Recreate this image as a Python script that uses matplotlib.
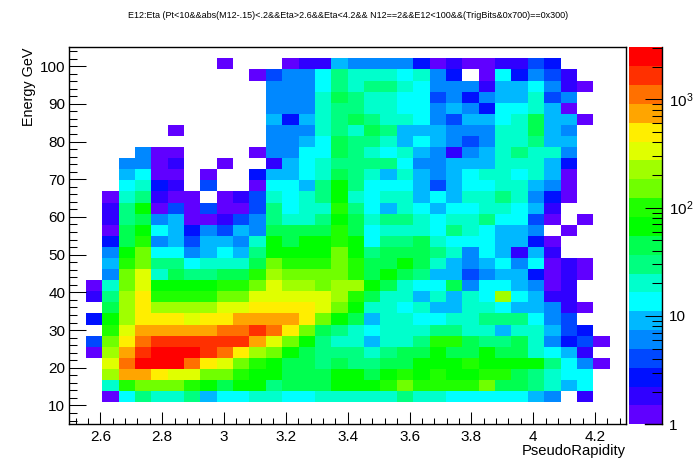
import numpy as np
import matplotlib
matplotlib.use("Agg")
import matplotlib.pyplot as plt
from matplotlib.colors import ListedColormap, LogNorm
from matplotlib.ticker import MultipleLocator, FixedLocator, FixedFormatter

plt.rcParams['font.family'] = ['Liberation Sans', 'DejaVu Sans']
plt.rcParams['mathtext.default'] = 'regular'

title = "E12:Eta (Pt<10&&abs(M12-.15)<.2&&Eta>2.6&&Eta<4.2&& N12==2&&E12<100&&(TrigBits&0x700)==0x300)"
x_label = "PseudoRapidity"
y_label = "Energy GeV"
eta_range = (2.5, 4.3)
energy_range = (5.0, 105.0)
z_range = (1.0, 3020.0)

# Representative count for each colour band (index 0 = empty bin)
band_counts = [0, 1, 2, 3, 4, 6, 9, 13, 20, 30, 45, 67, 100, 150, 225, 330, 500, 730, 1100, 1600, 2400]
palette = ['#6000ff', '#3000ff', '#0010ff', '#0048ff', '#0088ff', '#00b8ff', '#00ffff',
           '#00ffcc', '#00ff80', '#00ff50', '#00ff00', '#20ff00', '#70ff00', '#a0ff00',
           '#e0ff00', '#ffee00', '#ffa500', '#ff7000', '#ff3000', '#ff0000']

# Colour band of each bin, top energy row first, 34 eta bins per row
bands_top_down = [
 [0]*34,
 [0,0,0,0,0,0,0,0,0,1,0,0,0,1,2,2,6,5,5,5,5,3,1,2,1,1,2,2,4,3,0,0,0,0],
 [0,0,0,0,0,0,0,0,0,0,0,1,4,5,5,7,9,8,8,8,7,8,5,3,0,1,7,3,5,4,2,0,0,0],
 [0,0,0,0,0,0,0,0,0,0,0,0,5,5,5,7,9,8,9,9,8,7,5,5,5,2,6,6,7,5,2,1,0,0],
 [0,0,0,0,0,0,0,0,0,0,0,0,5,5,5,8,10,9,8,8,7,7,4,5,3,5,6,6,8,4,5,0,0,0],
 [0,0,0,0,0,0,0,0,0,0,0,0,5,5,5,8,9,9,8,8,7,7,5,6,5,3,7,7,8,6,1,0,0,0],
 [0,0,0,0,0,0,0,0,0,0,0,0,6,3,6,8,9,10,9,8,8,7,5,4,6,6,7,8,10,6,6,1,0,0],
 [0,0,0,0,0,0,1,0,0,0,0,0,5,5,5,8,9,8,10,9,6,6,6,5,5,5,8,8,10,6,5,0,0,0],
 [0,0,0,0,0,0,0,0,0,0,0,0,5,5,6,7,10,9,9,8,6,7,6,5,4,5,8,8,9,6,6,0,0,0],
 [0,0,0,0,5,1,1,0,0,0,0,1,5,5,7,7,10,9,8,7,8,6,5,2,5,6,8,9,8,8,5,0,0,0],
 [0,0,0,5,5,1,2,0,0,1,0,0,2,6,7,8,9,9,9,9,7,5,5,6,6,6,8,8,8,6,3,0,0,0],
 [0,0,0,6,7,1,1,0,1,0,0,3,6,6,7,8,10,9,8,6,8,6,5,6,7,8,8,7,8,6,1,0,0,0],
 [0,0,0,7,8,3,2,0,4,0,0,1,7,7,6,9,11,9,7,7,7,6,4,6,7,7,8,8,6,5,1,0,0,0],
 [0,0,1,8,9,2,1,1,0,1,2,4,8,7,8,9,11,8,7,8,8,6,7,6,8,8,9,8,5,3,1,0,0,0],
 [0,0,2,9,11,1,4,1,4,1,1,4,9,7,8,8,12,9,7,6,8,7,6,7,7,8,8,7,6,2,0,0,0,0],
 [0,0,2,9,10,5,6,1,1,2,4,5,9,8,8,9,11,10,8,9,9,8,7,8,8,9,7,7,4,1,0,1,0,0],
 [0,0,1,10,11,7,6,3,5,4,6,5,10,10,10,10,12,10,7,8,8,8,7,9,8,7,6,6,5,0,1,0,0,0],
 [0,0,3,10,12,5,6,4,6,6,5,8,11,10,11,11,12,11,7,9,9,10,8,7,7,7,6,6,3,1,0,0,0,0],
 [0,0,5,11,13,7,7,5,6,7,6,9,11,11,11,11,13,11,9,10,10,10,9,8,5,7,6,2,6,2,0,0,0,0],
 [0,0,6,12,13,9,9,7,8,8,8,10,13,12,12,12,13,12,10,10,11,10,8,6,5,6,7,5,7,1,2,1,0,0],
 [0,0,5,13,15,8,10,9,9,10,10,12,14,13,13,13,13,12,10,11,10,9,6,6,4,5,6,6,3,1,2,1,0,0],
 [0,1,8,13,15,11,11,11,11,12,12,13,15,14,14,13,14,14,11,10,8,7,7,10,5,7,7,6,5,1,2,0,0,0],
 [0,2,9,14,16,12,12,12,12,13,13,15,15,15,15,15,14,12,10,8,8,6,8,6,8,7,14,7,6,2,2,0,0,0],
 [0,0,10,14,16,14,14,14,14,15,15,16,16,16,16,15,13,11,8,8,7,8,6,6,8,8,7,6,6,5,2,1,0,0],
 [0,3,11,14,16,16,16,15,16,16,17,17,17,17,16,13,11,10,6,8,8,7,7,8,8,9,9,9,7,5,4,0,0,0],
 [0,0,12,15,17,17,17,17,17,18,18,19,18,16,13,10,9,8,7,8,8,8,9,9,8,8,6,8,8,6,4,3,0,0],
 [0,4,13,16,18,19,19,19,19,19,19,17,15,13,11,9,8,8,6,8,8,9,12,12,10,9,9,10,8,5,3,4,1,0],
 [0,1,14,17,19,20,20,20,19,18,16,14,13,11,10,9,9,9,8,9,10,10,11,10,10,11,10,10,8,7,6,2,0,0],
 [0,0,15,18,20,20,20,18,16,15,13,12,11,10,10,9,10,9,9,10,10,11,11,11,12,11,11,11,11,9,7,5,1,0],
 [0,0,14,17,17,16,15,15,13,13,12,11,11,10,10,10,11,11,10,11,12,11,12,11,11,12,12,10,9,8,7,7,0,0],
 [0,0,8,12,13,13,13,12,11,10,11,11,9,10,10,10,11,11,11,12,13,12,12,12,12,13,10,10,9,8,6,7,0,0],
 [0,0,1,7,9,8,8,9,6,7,7,8,8,7,7,8,8,8,8,8,9,8,8,7,7,7,7,7,6,5,0,2,0,0],
 [0]*34,
 [0]*34,
]

counts = np.asarray(band_counts)[np.array(bands_top_down[::-1])]
n_rows, n_cols = counts.shape
x_edges = np.linspace(*eta_range, n_cols + 1)
y_edges = np.linspace(*energy_range, n_rows + 1)

W, H = 696, 472
fig = plt.figure(figsize=(W / 100, H / 100), dpi=100)
ax = fig.add_axes([69.4 / W, (H - 424.3) / H, 556.6 / W, 377 / H])
cax = fig.add_axes([629 / W, (H - 424.3) / H, 32.7 / W, 377 / H])

cmap = ListedColormap(palette)
norm = LogNorm(*z_range)
mesh = ax.pcolormesh(x_edges, y_edges, np.ma.masked_equal(counts, 0), cmap=cmap, norm=norm, linewidth=0)

ax.set_xlim(*eta_range)
ax.set_ylim(*energy_range)
ax.xaxis.set_major_locator(MultipleLocator(0.2))
ax.xaxis.set_minor_locator(MultipleLocator(0.04))
ax.yaxis.set_major_locator(MultipleLocator(10))
ax.yaxis.set_minor_locator(MultipleLocator(2))
ax.xaxis.set_major_formatter(lambda v, p: f"{v:.0f}" if abs(v - round(v)) < 1e-6 else f"{v:.1f}")
ax.tick_params(axis='x', which='major', direction='in', length=8.4, width=0.75, labelsize=11, pad=4)
ax.tick_params(axis='x', which='minor', direction='in', length=4.3, width=0.75)
ax.tick_params(axis='y', which='major', direction='in', length=12.2, width=0.75, labelsize=11, pad=3)
ax.tick_params(axis='y', which='minor', direction='in', length=6.1, width=0.75)
for s in ax.spines.values():
    s.set_linewidth(1.0)

fig.text(626 / W, 1 - 451.5 / H, x_label, ha='right', va='center', fontsize=10.6)
fig.text(29.5 / W, 1 - 48 / H, y_label, ha='center', va='top', rotation=90, fontsize=10.4)
fig.text(348.5 / W, 1 - 16 / H, title, ha='center', va='center', fontsize=6.5)

cb = fig.colorbar(mesh, cax=cax)
cb.outline.set_visible(False)
cax.yaxis.set_ticks_position('right')
cax.yaxis.set_major_locator(FixedLocator([1, 10, 100, 1000]))
cax.yaxis.set_major_formatter(FixedFormatter(['1', '10', r'$10^{2}$', r'$10^{3}$']))
cax.yaxis.set_minor_locator(FixedLocator([m * d for d in (1, 10, 100, 1000) for m in range(2, 10) if m * d <= 3000]))
cax.yaxis.set_minor_formatter(FixedFormatter([]))
cax.tick_params(axis='y', which='major', direction='in', length=12.2, width=0.75, labelsize=11, pad=5, right=True)
cax.tick_params(axis='y', which='minor', direction='in', length=7, width=0.75, right=True)
cax.plot([1, 1], [0, 1], transform=cax.transAxes, color='black', lw=1.0, clip_on=False)
cax.plot([0.5, 1], [0, 0], transform=cax.transAxes, color='black', lw=1.0, clip_on=False)

fig.savefig("out.png", dpi=100)
